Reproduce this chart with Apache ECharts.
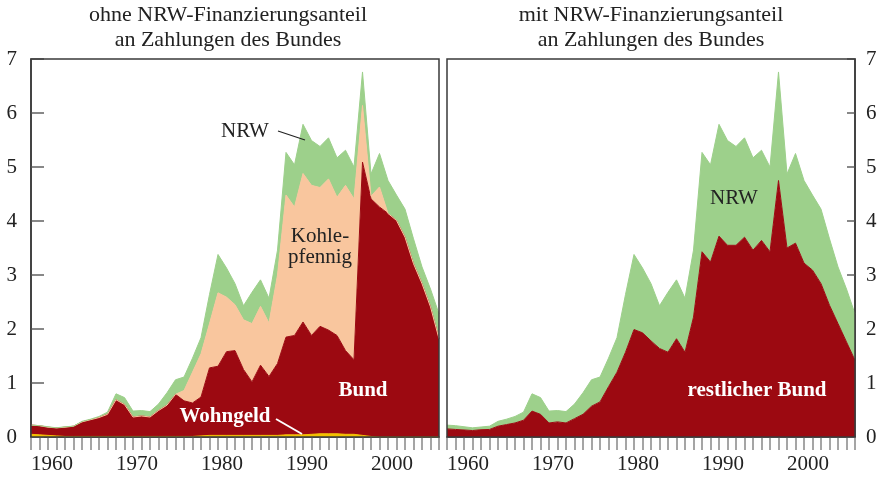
<!DOCTYPE html>
<html>
<head>
<meta charset="utf-8">
<script src="https://cdn.jsdelivr.net/npm/echarts@6/dist/echarts.min.js"></script>
<style>
html,body{margin:0;padding:0;background:#fff;}
#c{width:880px;height:481px;}
</style>
</head>
<body>
<div id="c"></div>
<script>
const years = [1958,1959,1960,1961,1962,1963,1964,1965,1966,1967,1968,1969,1970,1971,1972,1973,1974,1975,1976,1977,1978,1979,1980,1981,1982,1983,1984,1985,1986,1987,1988,1989,1990,1991,1992,1993,1994,1995,1996,1997,1998,1999,2000,2001,2002,2003,2004,2005,2006];
const yTicks = [0,1,2,3,4,5,6,7];

// left panel: ohne NRW-Finanzierungsanteil
const wohngeld = [0.05,0.04,0.03,0.02,0.01,0.01,0.01,0.01,0.01,0.01, 0.01,0.01,0.01,0.01,0.01,0.01,0.01,0.01,0.01,0.01, 0.02,0.03,0.03,0.03,0.03,0.03,0.03,0.03,0.03,0.03, 0.04,0.04,0.04,0.05,0.06,0.06,0.06,0.05,0.05,0.03, 0.01,0,0,0,0,0,0,0,0];
const bund = [0.17,0.17,0.15,0.15,0.17,0.19,0.27,0.31,0.35,0.41, 0.68,0.59,0.36,0.38,0.36,0.48,0.58,0.78,0.66,0.62, 0.72,1.25,1.28,1.55,1.57,1.22,0.99,1.30,1.09,1.33, 1.81,1.84,2.09,1.83,1.99,1.92,1.82,1.55,1.38,5.06, 4.40,4.26,4.14,4.01,3.70,3.21,2.84,2.41,1.82];
const kohlepfennig = [0,0,0,0,0,0,0,0,0,0, 0,0,0,0,0,0,0,0,0.19,0.57, 0.80,0.82,1.36,1.01,0.85,0.92,1.08,1.09,0.99,1.64, 2.63,2.38,2.75,2.78,2.57,2.80,2.56,3.06,2.98,1.05, 0.05,0.37,0,0,0,0,0,0,0];
const nrwOhne = [0,0,0.01,0,0.01,0,0.01,0.01,0.02,0.04, 0.11,0.13,0.11,0.10,0.10,0.12,0.23,0.27,0.25,0.26, 0.30,0.54,0.71,0.54,0.39,0.26,0.58,0.49,0.46,0.46, 0.79,0.78,0.91,0.83,0.76,0.76,0.73,0.65,0.59,0.62, 0.41,0.62,0.61,0.47,0.52,0.46,0.31,0.33,0.46];

// right panel: mit NRW-Finanzierungsanteil
const restBund = [0.15,0.14,0.13,0.12,0.135,0.14,0.20,0.23,0.26,0.31, 0.48,0.42,0.26,0.28,0.26,0.34,0.42,0.57,0.65,0.93, 1.20,1.57,1.99,1.93,1.78,1.64,1.57,1.82,1.57,2.22, 3.43,3.24,3.72,3.55,3.55,3.70,3.46,3.64,3.43,4.75, 3.50,3.59,3.22,3.09,2.84,2.44,2.10,1.76,1.42];
const nrwMit = [0.07,0.07,0.06,0.05,0.05,0.06,0.09,0.10,0.12,0.15, 0.32,0.31,0.22,0.21,0.21,0.27,0.40,0.49,0.46,0.53, 0.64,1.07,1.39,1.20,1.06,0.79,1.11,1.09,1.00,1.24, 1.84,1.80,2.07,1.94,1.83,1.84,1.71,1.67,1.57,2.01, 1.37,1.66,1.53,1.39,1.38,1.23,1.05,0.98,0.86];

const FONT = '"Liberation Serif", "Times New Roman", "DejaVu Serif", serif';
const C_RED = '#9c0911', C_GREEN = '#9dd08b', C_PEACH = '#f9c69e', C_YELLOW = '#f2c100';
const G = [{left:31, top:59, width:408, height:378}, {left:447, top:59, width:408, height:378}];

function area(name, data, color, idx, stack){
  return {name, type:'line', xAxisIndex:idx, yAxisIndex:idx, stack, data,
    symbol:'none', smooth:false, silent:true,
    lineStyle:{width:1, color}, itemStyle:{color}, areaStyle:{color, opacity:1}};
}
function xAx(idx){
  return {type:'category', gridIndex:idx, data:years.map(String), boundaryGap:false,
    axisLine:{show:true, lineStyle:{color:'#333', width:1.5}},
    axisTick:{show:true, inside:false, length:13, interval:0, lineStyle:{color:'#888', width:1.5}},
    axisLabel:{interval:(i,v)=> (+v)%10===0, fontFamily:FONT, fontSize:21, color:'#222', margin:17, padding:[0,0,0,8]},
    splitLine:{show:false}};
}
function yAx(idx, pos, tickLen, margin){
  return {type:'value', gridIndex:idx, min:0, max:7, interval:1, position:pos,
    axisLine:{show:true, lineStyle:{color:'#333', width:1.5}},
    axisTick:{show:true, inside:true, length:tickLen, lineStyle:{color:'#888', width:2}},
    axisLabel:{fontFamily:FONT, fontSize:21, color:'#222', margin, formatter:v=> yTicks.includes(v)? String(v):''},
    splitLine:{show:false}};
}
function txt(text, x, y, opts){
  return Object.assign({type:'text', x, y, z:120, silent:true,
    style:Object.assign({text, fill:'#222', font:'21px '+FONT, align:'center', verticalAlign:'middle', textAlign:'center', textVerticalAlign:'middle'}, opts||{})});
}

const chart = echarts.init(document.getElementById('c'), null, {renderer:'canvas'});
chart.setOption({
  animation:false,
  backgroundColor:'#fff',
  grid:G,
  xAxis:[xAx(0), xAx(1)],
  yAxis:[yAx(0,'left',13,14), yAx(1,'right',8,11)],
  series:[
    area('Wohngeld', wohngeld, C_YELLOW, 0, 'L'),
    area('Bund', bund, C_RED, 0, 'L'),
    area('Kohlepfennig', kohlepfennig, C_PEACH, 0, 'L'),
    area('NRW', nrwOhne, C_GREEN, 0, 'L'),
    area('restlicher Bund', restBund, C_RED, 1, 'R'),
    area('NRW ', nrwMit, C_GREEN, 1, 'R')
  ],
  graphic:[
    {type:'rect', z:110, silent:true, shape:{x:G[0].left, y:G[0].top, width:G[0].width, height:G[0].height}, style:{fill:null, stroke:'#3a3a3a', lineWidth:1.5}},
    {type:'rect', z:110, silent:true, shape:{x:G[1].left, y:G[1].top, width:G[1].width, height:G[1].height}, style:{fill:null, stroke:'#3a3a3a', lineWidth:1.5}},
    txt('ohne NRW-Finanzierungsanteil', 228, 15, {font:'22px '+FONT}),
    txt('an Zahlungen des Bundes', 228, 40, {font:'22px '+FONT}),
    txt('mit NRW-Finanzierungsanteil', 651, 15, {font:'22px '+FONT}),
    txt('an Zahlungen des Bundes', 651, 40, {font:'22px '+FONT}),
    txt('NRW', 245, 131),
    {type:'line', z:120, silent:true, shape:{x1:278, y1:131, x2:305, y2:140}, style:{stroke:'#222', lineWidth:1.2}},
    txt('Kohle-', 320, 236),
    txt('pfennig', 320, 257),
    txt('Bund', 363, 391, {fill:'#fff', font:'bold 21px '+FONT}),
    txt('Wohngeld', 225, 417, {fill:'#fff', font:'bold 21px '+FONT}),
    {type:'line', z:120, silent:true, shape:{x1:276, y1:419, x2:302, y2:434}, style:{stroke:'#fff', lineWidth:2}},
    txt('NRW', 734, 198),
    txt('restlicher Bund', 757, 391, {fill:'#fff', font:'bold 21px '+FONT})
  ]
});
</script>
</body>
</html>
